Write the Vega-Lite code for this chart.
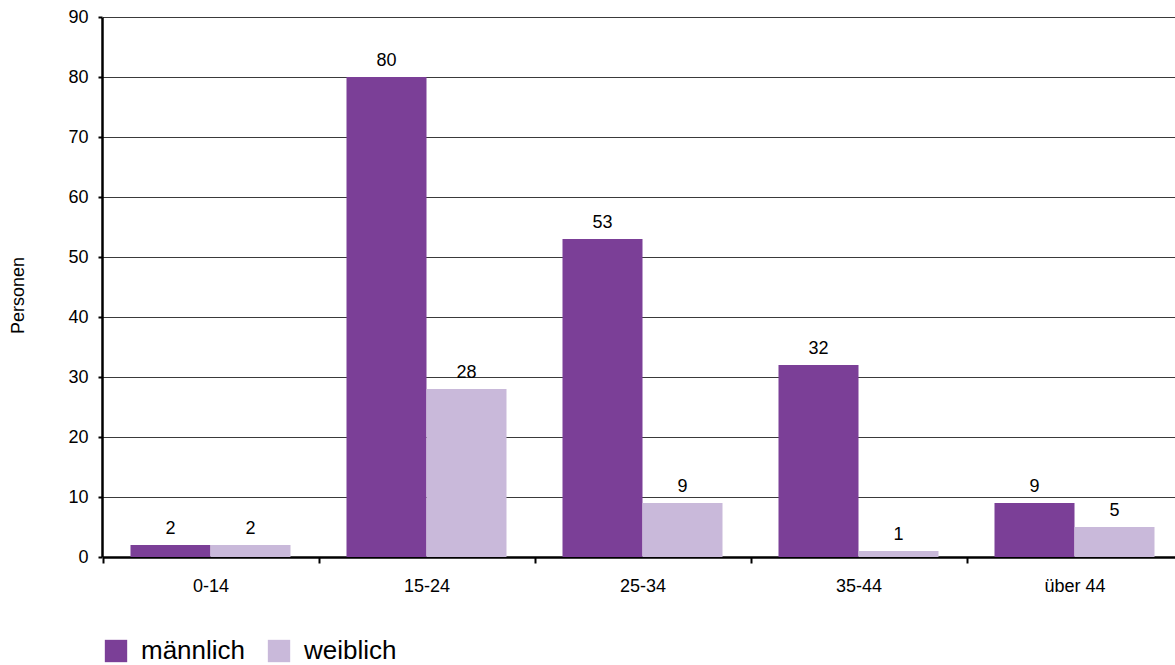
{
  "$schema": "https://vega.github.io/schema/vega-lite/v6.json",
  "autosize": "none",
  "width": 1073,
  "height": 540,
  "padding": {"left": 102, "top": 17, "right": 0, "bottom": 108},
  "background": "white",
  "config": {
    "font": "Liberation Sans",
    "view": {"stroke": null}
  },
  "data": {
    "values": [
      {"Alter": "0-14", "Geschlecht": "männlich", "Personen": 2},
      {"Alter": "0-14", "Geschlecht": "weiblich", "Personen": 2},
      {"Alter": "15-24", "Geschlecht": "männlich", "Personen": 80},
      {"Alter": "15-24", "Geschlecht": "weiblich", "Personen": 28},
      {"Alter": "25-34", "Geschlecht": "männlich", "Personen": 53},
      {"Alter": "25-34", "Geschlecht": "weiblich", "Personen": 9},
      {"Alter": "35-44", "Geschlecht": "männlich", "Personen": 32},
      {"Alter": "35-44", "Geschlecht": "weiblich", "Personen": 1},
      {"Alter": "über 44", "Geschlecht": "männlich", "Personen": 9},
      {"Alter": "über 44", "Geschlecht": "weiblich", "Personen": 5}
    ]
  },
  "encoding": {
    "x": {
      "field": "Alter",
      "type": "nominal",
      "sort": null,
      "scale": {"paddingInner": 0, "paddingOuter": 0, "range": [0.5, 1080.5]},
      "axis": {
        "title": null,
        "labelAngle": 0,
        "labelFontSize": 18,
        "labelColor": "black",
        "labelPadding": 14,
        "domainColor": "black",
        "domainWidth": 2.5,
        "tickColor": "black",
        "tickWidth": 2,
        "tickSize": 6,
        "tickBand": "extent",
        "grid": false
      }
    },
    "xOffset": {
      "field": "Geschlecht",
      "type": "nominal",
      "sort": ["männlich", "weiblich"],
      "scale": {"paddingInner": 0, "paddingOuter": 0.35}
    },
    "y": {
      "field": "Personen",
      "type": "quantitative",
      "scale": {"domain": [0, 90]},
      "axis": {
        "title": "Personen",
        "titleFontSize": 18,
        "titleFontWeight": "normal",
        "titleColor": "black",
        "titleAngle": 270,
        "titleAlign": "center",
        "titleBaseline": "middle",
        "titleX": -84,
        "titleY": 278,
        "values": [0, 10, 20, 30, 40, 50, 60, 70, 80, 90],
        "labelFontSize": 18,
        "labelColor": "black",
        "labelPadding": 10,
        "domainColor": "black",
        "domainWidth": 2.5,
        "tickColor": "black",
        "tickWidth": 2,
        "tickSize": 4,
        "grid": true,
        "gridColor": "#3a3a3a",
        "gridWidth": 1
      }
    }
  },
  "layer": [
    {
      "mark": {"type": "bar"},
      "encoding": {
        "color": {
          "field": "Geschlecht",
          "type": "nominal",
          "sort": ["männlich", "weiblich"],
          "scale": {"domain": ["männlich", "weiblich"], "range": ["#7b3f97", "#c9b9da"]},
          "legend": {
            "title": null,
            "orient": "none",
            "direction": "horizontal",
            "legendX": 1,
            "legendY": 621,
            "symbolType": "square",
            "symbolSize": 500,
            "symbolStrokeWidth": 0,
            "symbolOpacity": 1,
            "labelFontSize": 26,
            "labelColor": "black",
            "labelOffset": 12,
            "columnPadding": 20
          }
        }
      }
    },
    {
      "mark": {"type": "text", "baseline": "bottom", "dy": -7, "fontSize": 18, "color": "black"},
      "encoding": {
        "text": {"field": "Personen", "type": "quantitative"}
      }
    }
  ]
}
